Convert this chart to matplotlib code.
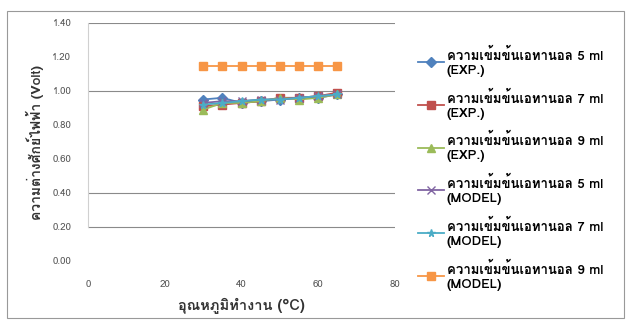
import matplotlib
matplotlib.use('Agg')
import matplotlib.pyplot as plt
from matplotlib import font_manager
from matplotlib.ft2font import FT2Font
from matplotlib.patches import Rectangle


def find_thai_font():
    # หาฟอนต์ที่มีอักษรไทย ให้ตระกูลที่มีตัวหนาขึ้นก่อน
    names, bold = [], set()
    for f in font_manager.fontManager.ttflist:
        try:
            cmap = FT2Font(f.fname).get_charmap()
        except Exception:
            continue
        if ord('ก') in cmap and ord('ข') in cmap:
            if f.name not in names:
                names.append(f.name)
            w = f.weight if isinstance(f.weight, int) else 700 if 'bold' in str(f.weight) else 400
            if w >= 600:
                bold.add(f.name)
    return sorted(names, key=lambda n: n not in bold)


thai = find_thai_font()
plt.rcParams['font.family'] = thai + ['DejaVu Sans']

# อุณหภูมิทำงาน (°C)
temp = [30, 35, 40, 45, 50, 55, 60, 65]

# ค่าที่วัดได้ (EXP.)
exp_5ml = [0.95, 0.96, 0.93, 0.94, 0.95, 0.96, 0.96, 0.98]
exp_7ml = [0.91, 0.92, 0.93, 0.94, 0.96, 0.96, 0.97, 0.99]
exp_9ml = [0.89, 0.93, 0.93, 0.94, 0.96, 0.95, 0.96, 0.98]

# ค่าจากแบบจำลอง (MODEL)
model_5ml = [0.93, 0.94, 0.94, 0.95, 0.95, 0.96, 0.97, 0.98]
model_7ml = [0.92, 0.93, 0.94, 0.95, 0.95, 0.96, 0.97, 0.98]
model_9ml = [1.15, 1.15, 1.15, 1.15, 1.15, 1.15, 1.15, 1.15]

yticks = [0.0, 0.2, 0.4, 0.6, 0.8, 1.0, 1.2, 1.4]
xticks = [0, 20, 40, 60, 80]

series = [
    (exp_5ml, 'ความเข้มข้นเอทานอล 5 ml\n(EXP.)', '#4F81BD', 'D'),
    (exp_7ml, 'ความเข้มข้นเอทานอล 7 ml\n(EXP.)', '#C0504D', 's'),
    (exp_9ml, 'ความเข้มข้นเอทานอล 9 ml\n(EXP.)', '#9BBB59', '^'),
    (model_5ml, 'ความเข้มข้นเอทานอล 5 ml\n(MODEL)', '#8064A2', 'x'),
    (model_7ml, 'ความเข้มข้นเอทานอล 7 ml\n(MODEL)', '#4BACC6', '*'),
    (model_9ml, 'ความเข้มข้นเอทานอล 9 ml\n(MODEL)', '#F79646', 's'),
]

fig = plt.figure(figsize=(6.3, 3.23), dpi=100)
ax = fig.add_axes([88 / 630, 1 - 261 / 323, 307 / 630, 238 / 323])

for vals, label, color, mk in series:
    ax.plot(temp, vals, color=color, marker=mk, markersize=5.5, linewidth=1.3,
            markeredgecolor=color, label=label)

ax.set_xlim(0, 80)
ax.set_ylim(0, 1.4)
ax.set_xticks(xticks)
ax.set_yticks(yticks)
ax.set_yticklabels([f'{v:.2f}' for v in yticks])
ax.tick_params(length=0, labelsize=7, colors='#555555', pad=14)
ax.tick_params(axis='y', pad=12)

for g in [0.2, 0.4, 1.0, 1.4]:
    ax.axhline(g, color='#8a8a8a', linewidth=0.8, zorder=0)

for s in ['top', 'right', 'bottom']:
    ax.spines[s].set_visible(False)
ax.spines['left'].set_color('#d0d0d0')
ax.spines['left'].set_bounds(0.2, 1.4)

ax.set_xlabel('อุณหภูมิทำงาน (°C)', fontsize=10.5, fontweight='bold', color='#333333',
              labelpad=6)
ax.set_ylabel('ความต่างศักย์ไฟฟ้า (Volt)', fontsize=10, fontweight='bold', color='#333333',
              labelpad=6)

fig.legend(loc='upper left', bbox_to_anchor=(406 / 630, 1 - 36 / 323), frameon=False,
           handlelength=2.0, handletextpad=0.2, labelspacing=1.05,
           prop={'weight': 'bold', 'size': 9.5})

fig.patches.append(Rectangle((7 / 630, 5 / 323), 617 / 630, 307 / 323,
                             transform=fig.transFigure, fill=False,
                             edgecolor='#999999', linewidth=0.8))

fig.savefig('out.png', dpi=100)
